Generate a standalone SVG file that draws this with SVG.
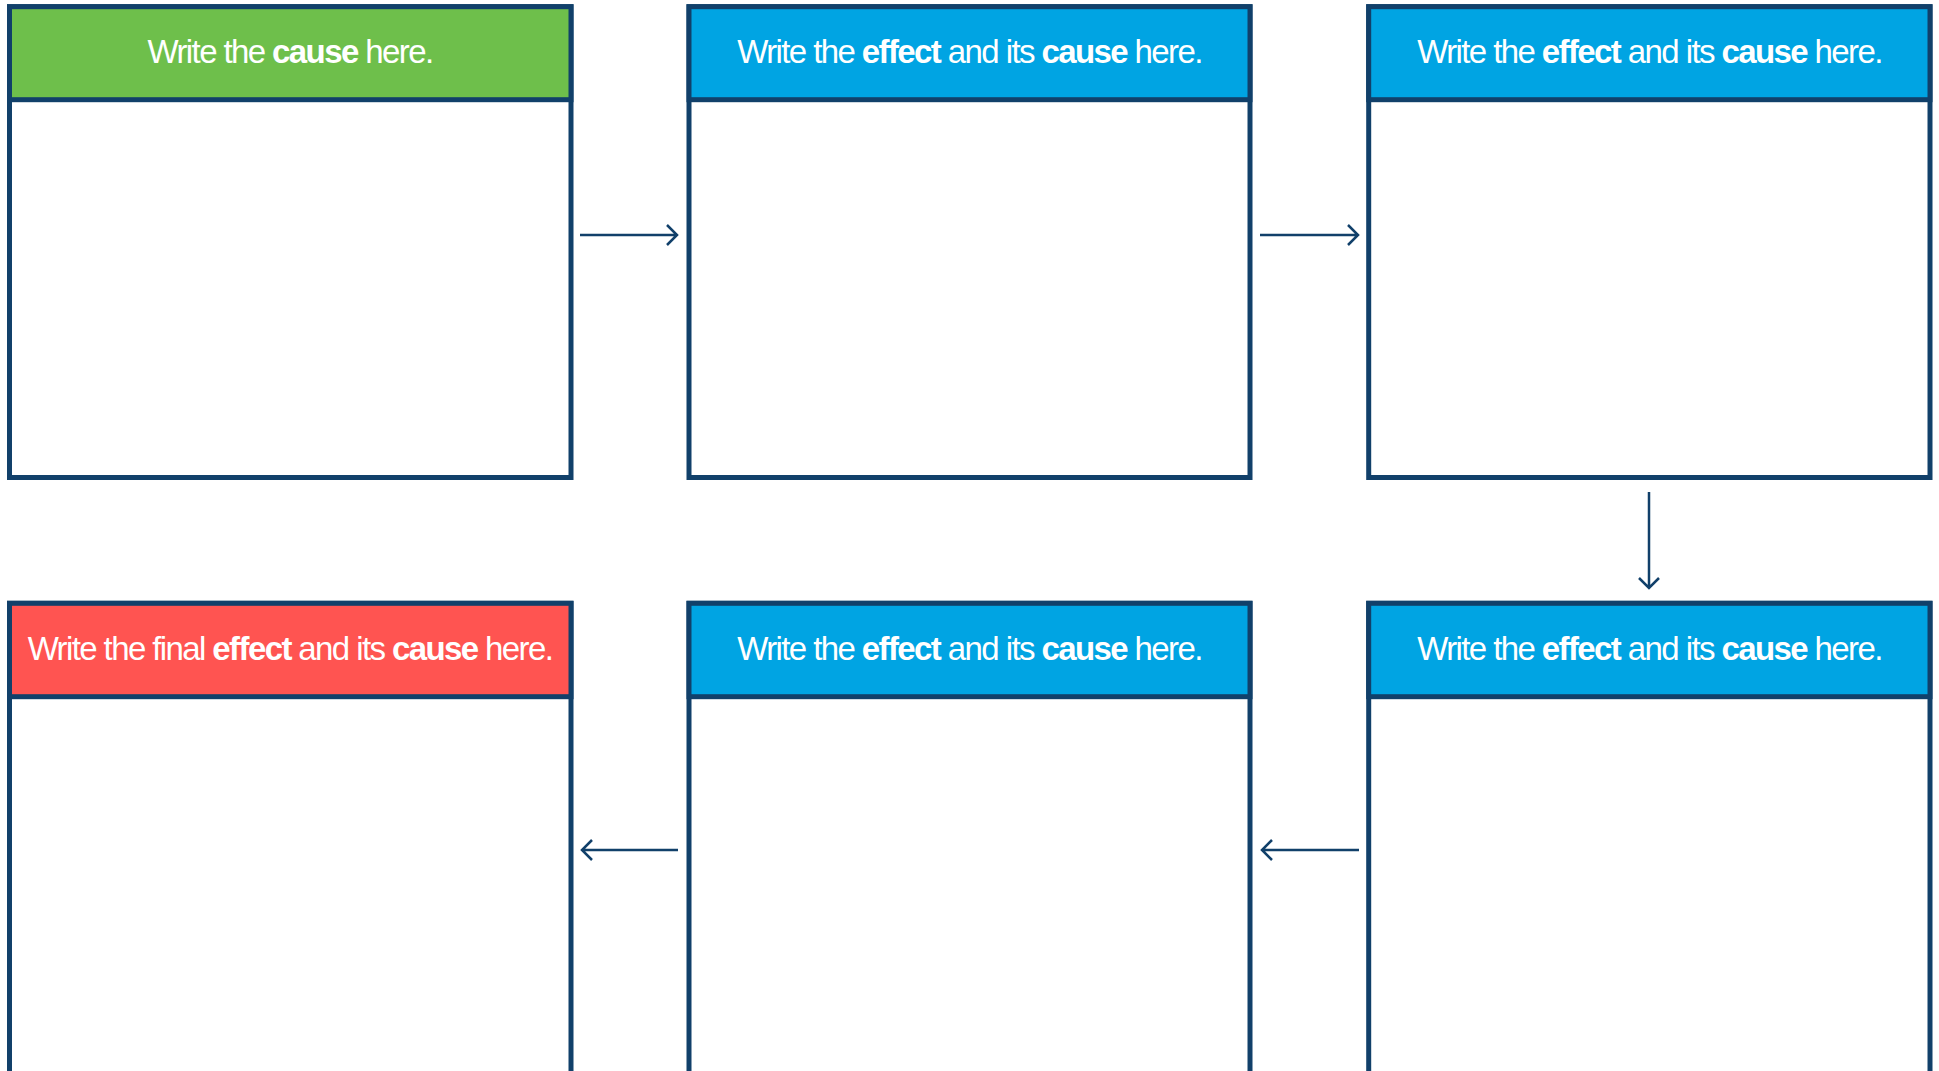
<svg xmlns="http://www.w3.org/2000/svg" width="1939" height="1071" viewBox="0 0 1939 1071">
<style>
.box{fill:#ffffff;stroke:#11406A;stroke-width:5}
.hd{stroke:#11406A;stroke-width:5}
.green{fill:#6EBF4B}
.blue{fill:#00A4E3}
.red{fill:#FF5451}
.lbl{font-family:"Liberation Sans",Arial,sans-serif;font-size:33px;letter-spacing:-1.6px;fill:#ffffff;text-anchor:middle}
.b{font-weight:bold}
.con{fill:none;stroke:#11406A;stroke-width:2.5;stroke-linecap:butt;stroke-linejoin:miter}
</style>
<rect width="1939" height="1071" fill="#ffffff"/>
<g id="node1">
<rect class="box" x="9.5" y="6.7" width="561.5" height="470.8"/>
<rect class="hd green" x="9.5" y="6.7" width="561.5" height="93"/>
<text class="lbl" x="290" y="63">Write the <tspan class="b">cause</tspan> here.</text>
</g>
<g id="node2">
<rect class="box" x="689" y="6.7" width="561" height="470.8"/>
<rect class="hd blue" x="689" y="6.7" width="561" height="93"/>
<text class="lbl" x="969.5" y="63">Write the <tspan class="b">effect</tspan> and its <tspan class="b">cause</tspan> here.</text>
</g>
<g id="node3">
<rect class="box" x="1368.7" y="6.7" width="561.3" height="470.8"/>
<rect class="hd blue" x="1368.7" y="6.7" width="561.3" height="93"/>
<text class="lbl" x="1649.5" y="63">Write the <tspan class="b">effect</tspan> and its <tspan class="b">cause</tspan> here.</text>
</g>
<g id="node4">
<rect class="box" x="1368.7" y="603.3" width="561.3" height="500"/>
<rect class="hd blue" x="1368.7" y="603.3" width="561.3" height="93.4"/>
<text class="lbl" x="1649.5" y="660">Write the <tspan class="b">effect</tspan> and its <tspan class="b">cause</tspan> here.</text>
</g>
<g id="node5">
<rect class="box" x="689" y="603.3" width="561" height="500"/>
<rect class="hd blue" x="689" y="603.3" width="561" height="93.4"/>
<text class="lbl" x="969.5" y="660">Write the <tspan class="b">effect</tspan> and its <tspan class="b">cause</tspan> here.</text>
</g>
<g id="node6">
<rect class="box" x="9.5" y="603.3" width="561.5" height="500"/>
<rect class="hd red" x="9.5" y="603.3" width="561.5" height="93.4"/>
<text class="lbl" x="290" y="660">Write the final <tspan class="b">effect</tspan> and its <tspan class="b">cause</tspan> here.</text>
</g>
<g id="connectors">
<path class="con" d="M580 235 H677 M667 225 L677 235 L667 245"/>
<path class="con" d="M1260 235 H1358 M1348 225 L1358 235 L1348 245"/>
<path class="con" d="M1649 492 V588 M1639 578 L1649 588 L1659 578"/>
<path class="con" d="M1359 850 H1262 M1272 840 L1262 850 L1272 860"/>
<path class="con" d="M678 850 H582 M592 840 L582 850 L592 860"/>
</g>
</svg>
